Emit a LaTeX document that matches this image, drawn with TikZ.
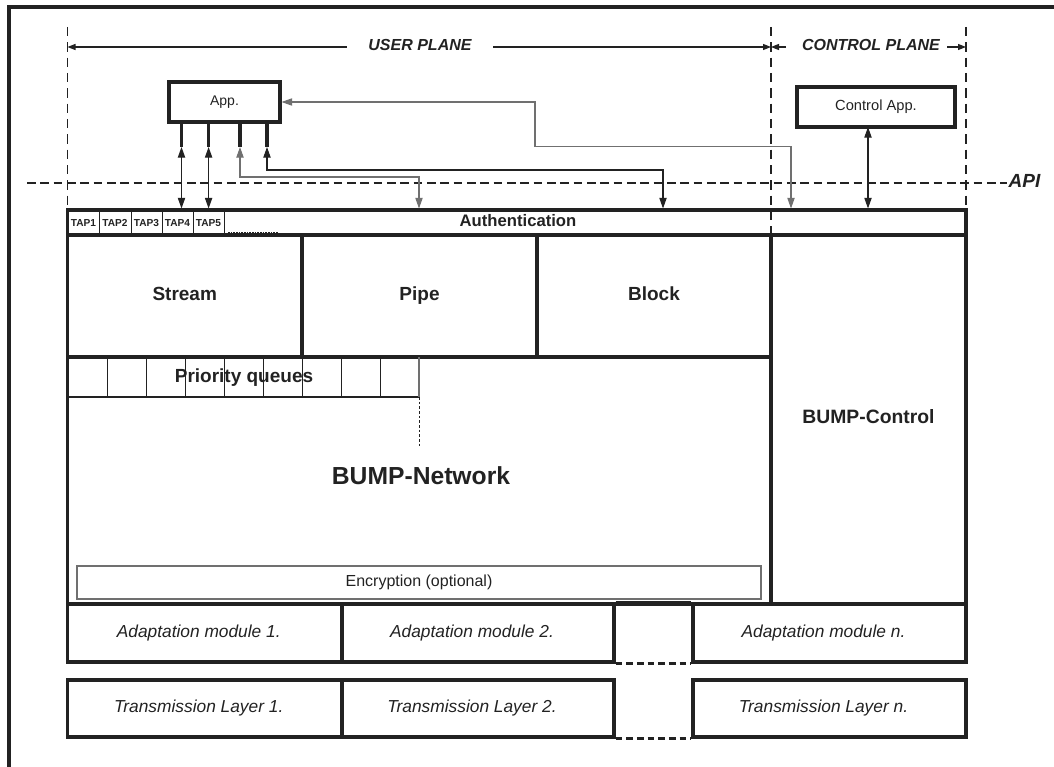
\documentclass[tikz,border=0pt]{standalone}
\usepackage{fontspec}
\setmainfont{Liberation Sans}
\usetikzlibrary{arrows.meta,fit}
\newcommand{\fsz}[1]{\fontsize{#1}{#1}\selectfont}
\definecolor{ink}{HTML}{222222}
\definecolor{gline}{HTML}{707070}
\begin{document}
\begin{tikzpicture}[x=0.75pt,y=-0.75pt,
  every node/.style={text=ink},
  txt/.style={text height=0.72em,text depth=0.12em},
  thk/.style={draw=ink,line width=2.3pt},
  bx/.style={fit={#1},inner sep=0pt,draw=ink,line width=2.3pt},
  thinl/.style={draw=ink,line width=0.7pt},
  vdash/.style={draw=ink,line width=1.2pt,dash pattern=on 7pt off 4.5pt},
  apidash/.style={draw=ink,line width=2.1pt,dash pattern=on 6.5pt off 3.5pt},
  gapdash/.style={draw=ink,line width=2.3pt,dash pattern=on 5pt off 3pt},
  tip/.style={-{Triangle[length=6pt,width=4.5pt]},draw=ink,line width=0.8pt},
  dbl/.style={{Triangle[length=8pt,width=5.5pt]}-{Triangle[length=8pt,width=5.5pt]},line width=0.8pt},
  stub/.style={draw=ink,line width=2.4pt},
  big/.style={txt,font=\bfseries\fsz{14.25}},
  ital/.style={txt,font=\itshape\fsz{13},xshift=-4.5pt},
  tap/.style={txt,font=\bfseries\fsz{7.6},inner sep=0pt},
  plane/.style={txt,font=\bfseries\itshape\fsz{12}}
]
\useasboundingbox (0,0) rectangle (1054,767);

% outer frame (cropped)
\draw[draw=ink,line width=2.5pt] (9,767) -- (9,7) -- (1054,7);

% plane separators
\coordinate (dL) at (67.5,27);
\coordinate (dM) at (771,27);
\coordinate (dR) at (966,27);
\draw[vdash] (dL) -- (67.5,210);
\draw[vdash] (dM) -- (771,235);
\draw[vdash] (dR) -- (966,210);

% plane labels
\node[plane,inner xsep=16pt] (up) at (420,47) {USER PLANE};
\draw[tip] (up.west) -- (dL |- up);
\draw[tip] (up.east) -- (dM |- up);
\node[plane] (cp) at (871,47) {CONTROL PLANE};
\coordinate (cpl) at (786,47);
\coordinate (cpr) at (947,47);
\draw[tip] (cpl) -- (dM |- cp);
\draw[tip] (cpr) -- (dR |- cp);

% applications
\node[bx={(169,82) (280,122)}] (app) {};
\node[txt,font=\fsz{10.5}] (apptxt) at (app.center) {App.};
\node[bx={(797,87) (955,127)}] (capp) {};
\node[txt,font=\fsz{11}] (capptxt) at (capp.center) {Control App.};

% API line
\node[txt,anchor=west,inner sep=1pt,font=\bfseries\itshape\fsz{14.25}] (api) at (1007,183) {API};
\coordinate (apil) at (27,183);
\draw[apidash] (apil) -- (api.west);

% authentication bar
\node[bx={(67.5,210) (966,235)}] (auth) {};
\node[txt,font=\bfseries\fsz{12.5}] (authtxt) at (518,222.5) {Authentication};
\foreach \x in {99,131,162,193,224} \draw[thinl] (\x,210) -- (\x,235);
\foreach \a/\b/\t in {68/99/TAP1,99/131/TAP2,131/162/TAP3,162/193/TAP4,193/224/TAP5}
  \node[tap] (\t) at ({(\a+\b)/2},222.5) {\t};
\coordinate (dotA) at (228,232);
\coordinate (dotB) at (278,232);
\draw[draw=ink,line width=0.7pt,dash pattern=on 1.2pt off 0.8pt] (dotA) -- (dotB);

% stream / pipe / block
\node[bx={(67.5,235) (302,357)}] (stream) {};
\node[big] (streamtxt) at (stream.center) {Stream};
\node[bx={(302,235) (537,357)}] (pipe) {};
\node[big] (pipetxt) at (pipe.center) {Pipe};
\node[bx={(537,235) (771,357)}] (block) {};
\node[big] (blocktxt) at (block.center) {Block};

% network and control
\node[bx={(67.5,357) (771,604)}] (net) {};
\node[txt,font=\bfseries\fsz{18.5}] (nettxt) at (421,480) {BUMP-Network};
\node[bx={(771,235) (966,604)}] (ctrl) {};
\node[txt,font=\bfseries\fsz{14.5}] (ctrltxt) at (ctrl.center) {BUMP-Control};

% priority queues
\foreach \x in {107,146,185,224,263,302,341,380} \draw[thinl] (\x,357) -- (\x,397);
\coordinate (pqbl) at (67.5,397);
\coordinate (pqbr) at (419,397);
\coordinate (pqtr) at (419,357);
\coordinate (pqdot) at (419,447);
\draw[draw=ink,line width=1.7pt] (pqbl) -- (pqbr);
\draw[draw=gline,line width=1.1pt] (pqtr) -- (pqbr);
\draw[draw=ink,line width=0.7pt,dash pattern=on 2pt off 1.5pt] (pqbr) -- (pqdot);
\node[big] (pq) at (244,378) {Priority queues};

% encryption
\node[fit={(77,566) (761,599)},inner sep=0pt,draw=gline,line width=1.1pt] (enc) {};
\node[txt,font=\fsz{12}] (enctxt) at (enc.center) {Encryption (optional)};

% adaptation modules
\node[bx={(67.5,604) (342,662)}] (a1) {};
\node[ital] (a1t) at (a1.center) {Adaptation module 1.};
\node[bx={(342,604) (614,662)}] (a2) {};
\node[ital] (a2t) at (a2.center) {Adaptation module 2.};
\node[bx={(693,604) (966,662)}] (an) {};
\node[ital] (ant) at (an.center) {Adaptation module n.};
\draw[thk] (a2.north east) -- (an.north west);
\draw[gapdash] (a2.south east) -- (an.south west);

% transmission layers
\node[bx={(67.5,680) (342,737)}] (t1) {};
\node[ital] (t1t) at (t1.center) {Transmission Layer 1.};
\node[bx={(342,680) (614,737)}] (t2) {};
\node[ital] (t2t) at (t2.center) {Transmission Layer 2.};
\node[bx={(693,680) (966,737)}] (tn) {};
\node[ital] (tnt) at (tn.center) {Transmission Layer n.};
\draw[gapdash] (t2.south east) -- (tn.south west);

% ports of App
\foreach \n/\x in {1/181.5,2/208.6,3/240,4/267}{
  \coordinate (p\n) at (\x,147);
  \draw[stub] (app.south -| p\n) -- (p\n);
}
\draw[dbl,draw=ink] (p1) -- (auth.north -| p1);
\draw[dbl,draw=ink] (p2) -- (auth.north -| p2);
\coordinate (c3) at (419,177);
\draw[dbl,draw=gline] (p3) |- (c3) -- (auth.north -| c3);
\coordinate (c4) at (663,170);
\draw[dbl,draw=ink] (p4) |- (c4) -- (auth.north -| c4);
\coordinate (c5a) at (535,146.5);
\coordinate (c5b) at (791,146.5);
\draw[dbl,draw=gline] (app.east) -| (c5a) -- (c5b) -- (auth.north -| c5b);
\coordinate (c6) at (868,127);
\draw[dbl,draw=ink] (c6) -- (auth.north -| c6);
\end{tikzpicture}
\end{document}
